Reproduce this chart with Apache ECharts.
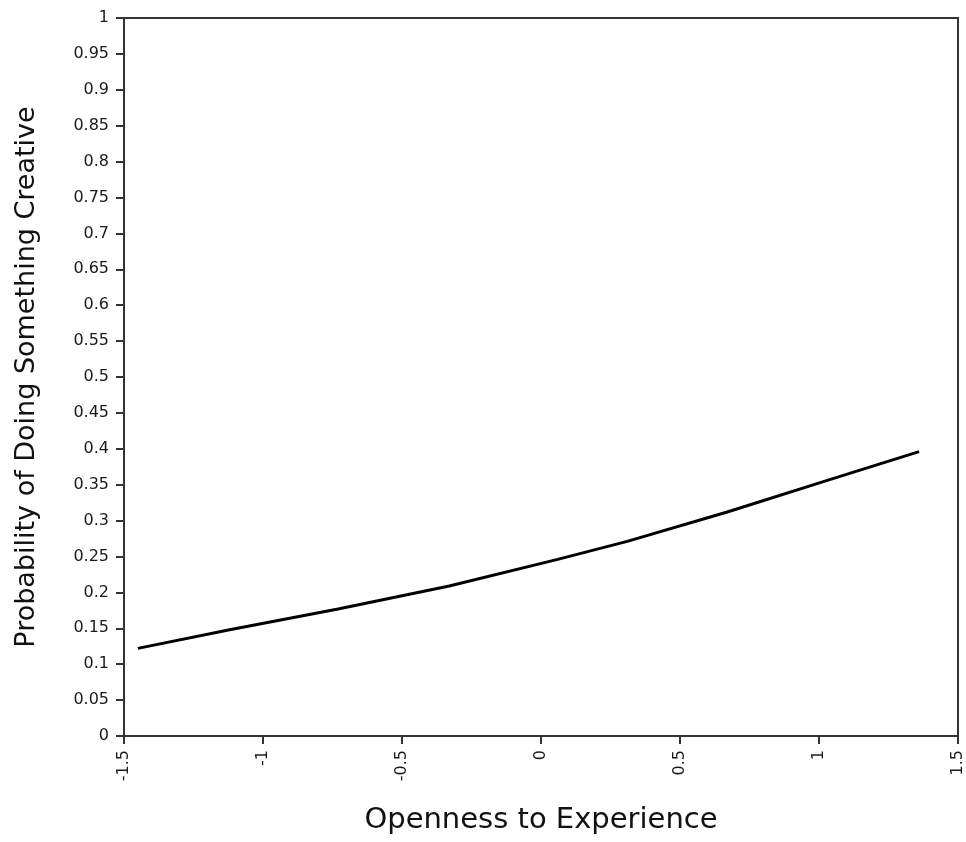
<!DOCTYPE html>
<html>
<head>
<meta charset="utf-8">
<script src="https://cdn.jsdelivr.net/npm/echarts@6/dist/echarts.min.js"></script>
<style>
html,body{margin:0;padding:0;background:#fff;overflow:hidden;}
#chart{width:966px;height:842px;}
</style>
</head>
<body>
<div id="chart"></div>
<script>
var xTitle = 'Openness to Experience';
var yTitle = 'Probability of Doing Something Creative';
var opennessValues = [-1.45, -1.12, -0.73, -0.33, 0.06, 0.31, 0.67, 1.03, 1.36];
var probabilityValues = [0.122, 0.148, 0.177, 0.209, 0.246, 0.271, 0.312, 0.356, 0.396];

var points = opennessValues.map(function (x, i) { return [x, probabilityValues[i]]; });
var FONT = 'DejaVu Sans';
var chart = echarts.init(document.getElementById('chart'), null, {renderer: 'canvas'});
chart.setOption({
  animation: false,
  backgroundColor: '#ffffff',
  grid: {left: 124, right: 4, top: 18, bottom: 106, show: true, borderColor: '#333', borderWidth: 2, containLabel: false},
  xAxis: {
    type: 'value', min: -1.5, max: 1.5, interval: 0.5,
    name: xTitle, nameLocation: 'middle', nameGap: 70,
    nameTextStyle: {fontFamily: FONT, fontSize: 29, color: '#111'},
    axisLine: {show: true, onZero: false, lineStyle: {color: '#333', width: 2}},
    axisTick: {show: true, length: 8, lineStyle: {color: '#333', width: 2}},
    axisLabel: {rotate: 90, margin: 14, fontFamily: FONT, fontSize: 16, color: '#1a1a1a', showMaxLabel: true, showMinLabel: true},
    splitLine: {show: false}
  },
  yAxis: {
    type: 'value', min: 0, max: 1, interval: 0.05,
    name: yTitle, nameLocation: 'middle', nameGap: 84, nameRotate: 90,
    nameTextStyle: {fontFamily: FONT, fontSize: 27, color: '#111'},
    axisLine: {show: true, onZero: false, lineStyle: {color: '#333', width: 2}},
    axisTick: {show: true, length: 8, lineStyle: {color: '#333', width: 2}},
    axisLabel: {margin: 15, fontFamily: FONT, fontSize: 16, color: '#1a1a1a'},
    splitLine: {show: false}
  },
  series: [{
    type: 'line', data: points, smooth: false, showSymbol: false,
    lineStyle: {color: '#000', width: 3}
  }]
});
</script>
</body>
</html>
